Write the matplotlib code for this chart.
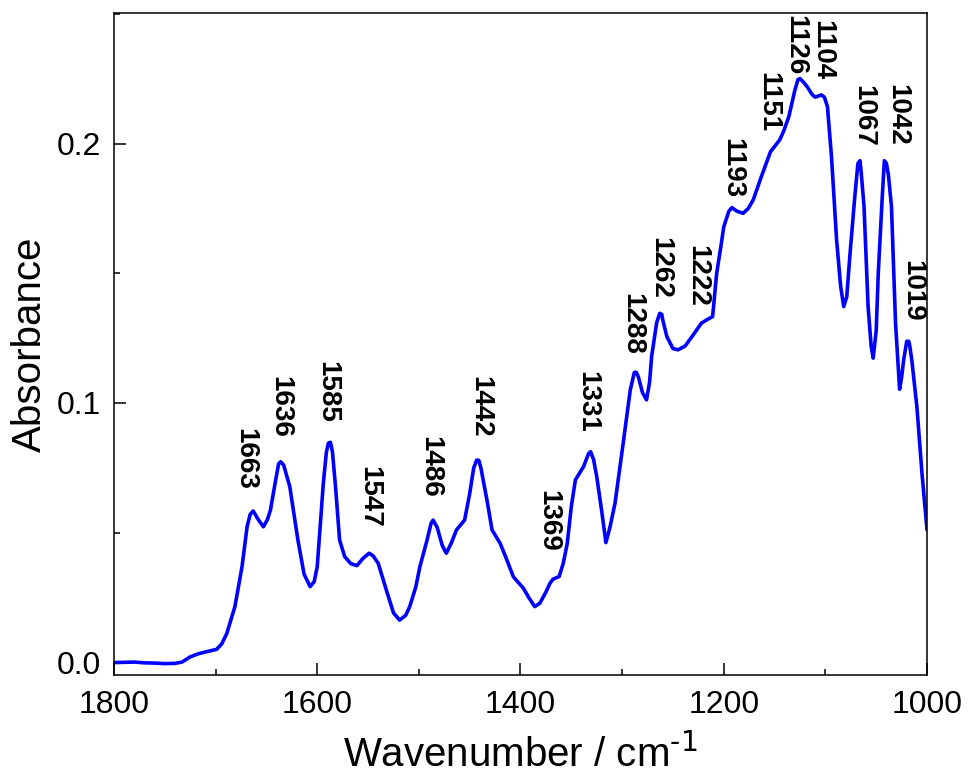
import matplotlib
matplotlib.use("Agg")
import matplotlib.pyplot as plt
from matplotlib.ticker import MultipleLocator

plt.rcParams['font.family'] = ['Liberation Sans', 'DejaVu Sans']
plt.rcParams['mathtext.default'] = 'regular'

# FTIR spectrum (wavenumber in cm-1, absorbance)
wavenumber = [1800, 1790, 1780, 1770, 1760, 1750, 1740, 1733, 1725, 1717,
              1709, 1699, 1694, 1689, 1681, 1674, 1669, 1666, 1663, 1658,
              1653, 1649, 1646, 1641, 1638, 1636, 1633, 1627, 1619, 1613, 1607,
              1603, 1600, 1594, 1591, 1589, 1587, 1585, 1582, 1578, 1573, 1567,
              1561, 1555, 1549, 1545, 1540, 1532, 1525, 1519, 1513, 1509,
              1503, 1499, 1492, 1488, 1486, 1482, 1477, 1473, 1468, 1463, 1455,
              1450, 1446, 1443, 1441, 1439, 1433, 1428, 1420, 1414, 1407, 1397,
              1392, 1386, 1381, 1375, 1371, 1368, 1362, 1358, 1354, 1350,
              1346, 1338, 1333, 1331, 1328, 1325, 1320, 1316, 1312, 1307, 1299,
              1292, 1288, 1286, 1284, 1280, 1276, 1273, 1271, 1266, 1263, 1261, 1260,
              1256, 1250, 1245, 1238, 1230, 1222, 1215, 1211, 1207, 1203,
              1200, 1195, 1192, 1187, 1181, 1176, 1171, 1163, 1154, 1145,
              1141, 1136, 1130, 1127, 1125, 1122, 1118, 1113, 1110, 1104, 1101,
              1098, 1094, 1089, 1085, 1082, 1079, 1076, 1071, 1068, 1066, 1065,
              1062, 1058, 1055, 1053, 1050, 1048, 1044, 1042, 1040, 1038, 1035,
              1031, 1027, 1025, 1023, 1020, 1018, 1017, 1015, 1010, 1005, 1000]
absorbance = [-0.0002, -0.0001, 0.0, -0.0003, -0.0004, -0.0006, -0.0005, 0.0, 0.002, 0.0032,
              0.004, 0.0049, 0.007, 0.011, 0.0214, 0.0368, 0.0522, 0.057, 0.0583, 0.055,
              0.0522, 0.055, 0.0587, 0.070, 0.0765, 0.0773, 0.076, 0.0677, 0.0471, 0.034, 0.0291,
              0.031, 0.0368, 0.069, 0.081, 0.0845, 0.0848, 0.081, 0.0677, 0.0471, 0.0407, 0.038,
              0.0372, 0.040, 0.042, 0.041, 0.0381, 0.0278, 0.019, 0.0162, 0.018, 0.0214,
              0.029, 0.0368, 0.047, 0.0535, 0.0548, 0.052, 0.045, 0.042, 0.046, 0.051, 0.0548,
              0.065, 0.075, 0.078, 0.0778, 0.075, 0.0625, 0.051, 0.0458, 0.040, 0.0329, 0.0284,
              0.025, 0.0214, 0.0227, 0.027, 0.0304, 0.032, 0.033, 0.038, 0.0458, 0.060,
              0.0703, 0.0754, 0.0805, 0.0812, 0.078, 0.0716, 0.058, 0.0461, 0.052, 0.0613, 0.0844,
              0.105, 0.1118, 0.1118, 0.110, 0.104, 0.1012, 0.108, 0.1179, 0.131, 0.1346, 0.1342, 0.132,
              0.1256, 0.121, 0.1205, 0.122, 0.1263, 0.1308, 0.1325, 0.1333, 0.150, 0.160,
              0.168, 0.174, 0.1754, 0.174, 0.1732, 0.175, 0.1784, 0.1874, 0.197, 0.2015,
              0.205, 0.2105, 0.2208, 0.2248, 0.2252, 0.224, 0.2221, 0.219, 0.218, 0.2189, 0.218,
              0.2144, 0.195, 0.163, 0.145, 0.1372, 0.141, 0.1565, 0.180, 0.1925, 0.1935, 0.190,
              0.1758, 0.1372, 0.122, 0.1173, 0.128, 0.150, 0.180, 0.1935, 0.1925, 0.188, 0.1758,
              0.1308, 0.1053, 0.110, 0.1166, 0.1238, 0.1238, 0.122, 0.1166, 0.0986, 0.0729, 0.051]

# peak labels
peak_labels = ['1663', '1636', '1585', '1547', '1486', '1442', '1369', '1331', '1288',
               '1262', '1222', '1193', '1151', '1126', '1104', '1067', '1042', '1019']
# where each label sits (label centre wavenumber, absorbance at the label's lower end)
label_x = [1670.5, 1636.6, 1589.8, 1549, 1489, 1439.8, 1372.6, 1334, 1290,
           1262.6, 1226.5, 1191.5, 1156, 1129.7, 1103, 1062.5, 1029.6, 1014.9]
label_y = [0.0664, 0.0865, 0.0923, 0.0517, 0.0633, 0.0865, 0.0426, 0.0885, 0.1185,
           0.1402, 0.1372, 0.1792, 0.2047, 0.2266, 0.2247, 0.199, 0.1992, 0.1314]

fig = plt.figure(figsize=(9.69, 7.80), dpi=100)
ax = fig.add_axes([0.1176, 0.1346, 0.8391, 0.8487])

ax.plot(wavenumber, absorbance, color='#0000ff', linewidth=2.6,
        solid_joinstyle='round', solid_capstyle='round')

for txt, lx, ly in zip(peak_labels, label_x, label_y):
    ax.text(lx, ly, txt, rotation=270, ha='center', va='bottom',
            fontsize=20, fontweight='bold')

ax.set_xlim(1800, 1000)
ax.set_ylim(-0.005, 0.2505)
ax.xaxis.set_major_locator(MultipleLocator(200))
ax.xaxis.set_minor_locator(MultipleLocator(100))
ax.yaxis.set_major_locator(MultipleLocator(0.1))
ax.yaxis.set_minor_locator(MultipleLocator(0.05))
ax.yaxis.set_major_formatter(plt.FormatStrFormatter('%.1f'))

ax.tick_params(which='both', direction='in', top=False, right=False, width=1.1, labelsize=23)
ax.tick_params(which='major', length=8.5)
ax.tick_params(which='minor', length=4.5)
ax.tick_params(axis='x', which='major', pad=11)
ax.tick_params(axis='y', which='major', pad=9)
for sp in ax.spines.values():
    sp.set_linewidth(1.1)

ax.set_xlabel(r'Wavenumber / cm$^{\text{-1}}$', fontsize=29, labelpad=10)
ax.set_ylabel('Absorbance', fontsize=29, labelpad=6)

plt.savefig('out.png', dpi=100)
